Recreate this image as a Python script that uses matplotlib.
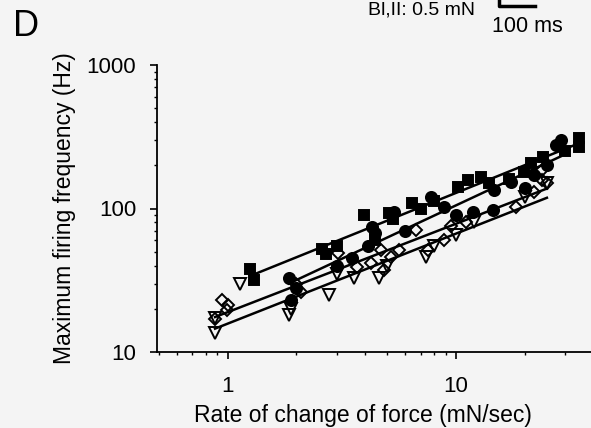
import matplotlib
matplotlib.use("Agg")
import matplotlib.pyplot as plt
import numpy as np

plt.rcParams['font.family'] = ['Liberation Sans', 'DejaVu Sans']

# filled squares
sq_x = [1.25, 1.30, 2.6, 2.7, 3.0, 3.97, 4.4, 5.1, 5.3, 6.4, 7.0, 8.0, 10.2, 11.3,
        12.9, 14.0, 17.0, 19.8, 21.3, 24.0, 34.5, 34.5, 30.0]
sq_y = [38, 32, 52, 48, 55, 90, 60, 93, 85, 109, 100, 112, 141, 158,
        165, 150, 160, 180, 207, 230, 310, 268, 250]

# filled circles
ci_x = [1.85, 1.9, 2.0, 3.0, 3.5, 4.3, 4.4, 4.1, 5.35, 6.0, 7.8, 8.9, 10.0, 11.9,
        14.5, 14.6, 17.4, 20.0, 27.4, 28.7, 25.0, 22.0]
ci_y = [33, 23, 28, 40, 45, 74, 67, 55, 95, 70, 120, 103, 90, 95,
        97, 135, 152, 140, 277, 300, 200, 170]

# open diamonds
di_x = [0.94, 0.99, 1.0, 0.88, 2.0, 2.1, 3.05, 3.7, 4.25, 4.7, 4.85, 5.2, 5.6, 6.7,
        7.5, 8.9, 9.5, 11.0, 18.3, 23.9, 23.9, 25.0, 22.0]
di_y = [23, 19.6, 21.3, 17, 30, 26, 49, 39, 42, 51, 37, 46, 51, 71,
        51, 60, 75, 80, 102, 185, 158, 150, 130]

# open triangles
tr_x = [1.13, 0.88, 0.88, 1.85, 1.9, 2.79, 3.0, 3.59, 4.6, 5.0, 7.4, 8.0, 10.0,
        12.0, 20.0, 25.0]
tr_y = [30, 17.3, 13.6, 18, 20, 25, 35, 33, 33, 40, 46, 55, 65,
        80, 120, 150]

bg = '#f4f4f4'
fig = plt.figure(figsize=(5.91, 4.28), dpi=100, facecolor=bg)
ax = fig.add_axes([157/591, 76/428, 434/591, 287/428])
ax.set_facecolor(bg)

series = [
    (sq_x, sq_y, 's', 'black', 7.5),
    (ci_x, ci_y, 'o', 'black', 8),
    (di_x, di_y, 'D', 'none', 6.5),
    (tr_x, tr_y, 'v', 'none', 8.5),
]

for xs, ys, mk, fc, ms in series:
    lx = np.log10(xs)
    ly = np.log10(ys)
    b, a = np.polyfit(lx, ly, 1)
    xx = np.array([min(xs), max(xs)])
    ax.plot(xx, 10**(a + b*np.log10(xx)), color='black', lw=1.8, zorder=2)
    ax.plot(xs, ys, ls='none', marker=mk, ms=ms, mfc=fc, mec='black', mew=1.4, zorder=3)

ax.set_xscale('log')
ax.set_yscale('log')
ax.set_xlim(0.49, 39)
ax.set_ylim(10, 1000)
ax.spines['top'].set_visible(False)
ax.spines['right'].set_visible(False)
ax.spines['left'].set_linewidth(1.3)
ax.spines['bottom'].set_linewidth(1.3)
ax.set_xticks([1, 10])
ax.set_xticklabels(['1', '10'])
ax.set_yticks([10, 100, 1000])
ax.set_yticklabels(['10', '100', '1000'])
ax.tick_params(which='major', direction='out', length=5, width=1.2, labelsize=16)
ax.tick_params(which='minor', direction='out', length=2, width=1)
ax.tick_params(axis='x', pad=12)
ax.tick_params(axis='y', pad=10)

ax.set_xlabel('Rate of change of force (mN/sec)', fontsize=16.5, va='center')
ax.xaxis.set_label_coords(0.475, -0.22)
ax.set_ylabel('Maximum firing frequency (Hz)', fontsize=16.5, va='center')
ax.yaxis.set_label_coords(-0.214, 0.5)

fig.text(13/591, 1 - 27/428, 'D', fontsize=26, va='center', ha='left')
fig.text(527/591, 1 - 27/428, '100 ms', fontsize=15.5, va='center', ha='center')
fig.text(422/591, 1 - 10/428, 'Bl,II: 0.5 mN', fontsize=14, va='center', ha='center')
fig.add_artist(plt.Line2D([499/591, 499/591, 535/591], [1.0, 1 - 6/428, 1 - 6/428],
                          transform=fig.transFigure, color='black', lw=2.5))

fig.savefig('out.png', dpi=100, facecolor=bg)
